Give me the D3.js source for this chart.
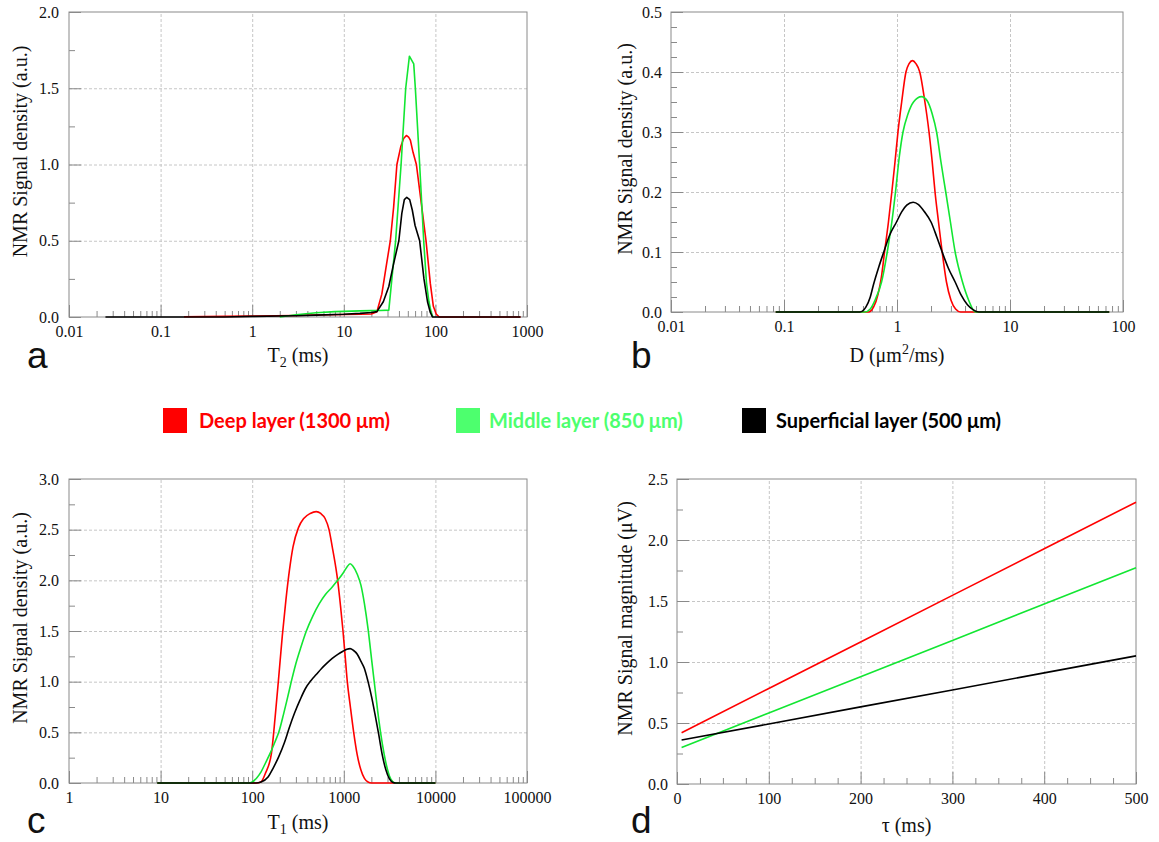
<!DOCTYPE html>
<html><head><meta charset="utf-8">
<script src="https://cdn.jsdelivr.net/npm/d3@7"></script>
<style>
body{margin:0;background:#fff}
svg{display:block}
</style>
</head><body>
<svg id="chart" width="1159" height="842"></svg>
<script>
// ---------- DATA ----------
// Panel a: T2 distributions [T2 (ms), density]
const t2Deep = [[0.18,0.002],[0.5,0.004],[1,0.006],[3,0.01],[5,0.013],[10,0.016],[15,0.018],[20,0.02],[23,0.035],[26,0.15],[29,0.33],[32.2,0.5],[35,0.72],[38,1.0],[42,1.12],[45,1.17],[48.2,1.19],[51,1.18],[53.3,1.16],[57,1.08],[62,1.0],[70,0.75],[79,0.5],[88,0.22],[95,0.07],[102,0.02],[110,0],[850,0]];
const t2Middle = [[2,0],[3,0.015],[5,0.028],[8,0.035],[10,0.037],[15,0.04],[20,0.042],[25,0.043],[31,0.045],[36.8,0.5],[42.2,1.0],[47.4,1.5],[52,1.71],[58,1.66],[60.4,1.5],[67.3,1.0],[74.5,0.5],[80,0.22],[85,0.1],[90,0.03],[94,0]];
const t2Superficial = [[0.025,0],[0.5,0],[1,0.004],[3,0.008],[5,0.012],[10,0.018],[15,0.024],[20,0.03],[23,0.035],[27,0.1],[31,0.2],[35,0.35],[39.9,0.5],[43,0.68],[45.8,0.77],[48.7,0.785],[52.4,0.77],[56,0.7],[60,0.6],[67.3,0.5],[75,0.25],[82,0.1],[88,0.03],[93,0],[850,0]];

// Panel b: D distributions [D (um2/ms), density]
const dDeep = [[0.0845,0],[0.56,0],[0.62,0.008],[0.68,0.03],[0.73,0.06],[0.776,0.1],[0.84,0.15],[0.9,0.2],[0.96,0.25],[1.02,0.3],[1.1,0.35],[1.2,0.4],[1.28,0.414],[1.37,0.419],[1.47,0.414],[1.59,0.4],[1.75,0.355],[1.92,0.3],[2.05,0.25],[2.17,0.2],[2.33,0.15],[2.51,0.1],[2.74,0.05],[3.0,0.02],[3.3,0.005],[3.66,0],[75.5,0]];
const dMiddle = [[0.0845,0],[0.52,0],[0.58,0.005],[0.64,0.02],[0.73,0.05],[0.82,0.1],[0.9,0.15],[0.97,0.2],[1.05,0.26],[1.13,0.3],[1.25,0.33],[1.4,0.35],[1.65,0.359],[1.85,0.352],[2.05,0.33],[2.24,0.3],[2.45,0.25],[2.7,0.2],[2.97,0.15],[3.27,0.1],[3.8,0.05],[4.3,0.02],[4.95,0],[75.5,0]];
const dSuperficial = [[0.0845,0],[0.47,0],[0.53,0.008],[0.58,0.025],[0.618,0.045],[0.69,0.075],[0.764,0.1],[0.86,0.128],[0.99,0.15],[1.1,0.167],[1.22,0.178],[1.39,0.183],[1.55,0.179],[1.75,0.167],[2.0,0.15],[2.25,0.125],[2.51,0.1],[2.85,0.073],[3.27,0.05],[3.7,0.028],[4.2,0.012],[4.7,0.004],[5.3,0],[75.5,0]];

// Panel c: T1 distributions [T1 (ms), density]
const t1Deep = [[9.2,0],[110,0],[124,0.01],[140,0.1],[162,0.29],[178,0.65],[195,1.05],[213,1.45],[233,1.8],[255,2.1],[279,2.33],[320,2.52],[365,2.61],[430,2.66],[500,2.678],[560,2.66],[625,2.61],[690,2.5],[748,2.33],[820,2.12],[857,2.0],[920,1.75],[980,1.5],[1035,1.25],[1092,1.0],[1180,0.75],[1282,0.5],[1400,0.28],[1535,0.13],[1680,0.045],[1837,0.01],[2011,0],[10000,0]];
const t1Middle = [[9.2,0],[92,0],[100,0.01],[112,0.05],[125,0.11],[140,0.2],[160,0.31],[178,0.41],[195,0.5],[220,0.68],[240,0.82],[267,1.0],[300,1.18],[340,1.34],[390,1.5],[460,1.65],[540,1.77],[630,1.86],[740,1.93],[857,2.0],[980,2.07],[1080,2.13],[1172,2.163],[1260,2.14],[1403,2.06],[1540,1.95],[1679,1.77],[1840,1.52],[2011,1.22],[2200,0.92],[2405,0.63],[2640,0.38],[2878,0.2],[3150,0.07],[3444,0.01],[3700,0],[10000,0]];
const t1Superficial = [[9.2,0],[110,0],[125,0.01],[149,0.06],[170,0.15],[195,0.26],[225,0.4],[255,0.55],[290,0.69],[333,0.82],[380,0.93],[437,1.01],[500,1.07],[572,1.13],[650,1.18],[748,1.23],[860,1.27],[980,1.3],[1080,1.32],[1172,1.326],[1270,1.31],[1403,1.27],[1540,1.2],[1679,1.13],[1840,1.0],[2011,0.85],[2200,0.67],[2405,0.48],[2640,0.27],[2878,0.13],[3150,0.04],[3444,0.005],[3700,0],[10000,0]];

// Panel d: signal magnitude vs tau
const tau = [5,100,200,300,400,500];
const magDeep = [0.42,0.783,1.164,1.546,1.928,2.31];
const magMiddle = [0.30,0.582,0.88,1.177,1.475,1.772];
const magSuperficial = [0.36,0.492,0.632,0.771,0.911,1.05];

// Tick labels
const t2Labels = ["0.01","0.1","1","10","100","1000"];
const dLabels = ["0.01","0.1","1","10","100"];
const t1Labels = ["1","10","100","1000","10000","100000"];
const tauLabels = ["0","100","200","300","400","500"];

const seriesNames = ["Deep layer (1300 μm)","Middle layer (850 μm)","Superficial layer (500 μm)"];
const lineColors = ["#ff0000","#12e632","#000000"];
const legendColors = ["#ff0000","#4dff6e","#000000"];

// ---------- DRAW ----------
const svg = d3.select("#chart");
const SERIF = "'Liberation Serif','Times New Roman',serif";

function logMinors(lo, hi){
  const out=[];
  for(let e=Math.round(Math.log10(lo)); e<Math.round(Math.log10(hi)); e++){
    for(let k=2;k<=9;k++) out.push(k*Math.pow(10,e));
  }
  return out;
}
function linSteps(lo,hi,step){
  const out=[]; const n=Math.round((hi-lo)/step);
  for(let i=0;i<=n;i++) out.push(+(lo+i*step).toFixed(6));
  return out;
}

function styleAxis(sel){
  sel.select(".domain").remove();
  sel.selectAll(".tick line").attr("stroke","#8a8a8a").attr("stroke-width",1);
  sel.selectAll(".tick text").attr("fill","#111").style("font-family",SERIF).style("font-size","16px");
}

function panel(o){
  const w=o.right-o.left, h=o.bottom-o.top;
  const g=svg.append("g").attr("transform",`translate(${o.left},${o.top})`);
  const x=(o.log?d3.scaleLog():d3.scaleLinear()).domain(o.xDomain).range([0,w]);
  const y=d3.scaleLinear().domain(o.yDomain).range([h,0]);

  // grid
  const gx=g.append("g").attr("transform",`translate(0,${h})`)
    .call(d3.axisBottom(x).tickValues(o.xMajor.slice(1,-1)).tickSize(-h).tickFormat(""));
  const gy=g.append("g")
    .call(d3.axisLeft(y).tickValues(o.yMajor.slice(1,-1)).tickSize(-w).tickFormat(""));
  [gx,gy].forEach(s=>{s.select(".domain").remove();
    s.selectAll(".tick line").attr("stroke","#c6c6c6").attr("stroke-dasharray","3,2");});

  // minor ticks
  styleAxis(g.append("g").attr("transform",`translate(0,${h})`)
    .call(d3.axisBottom(x).tickValues(o.xMinor).tickSize(-6).tickFormat("")));
  styleAxis(g.append("g")
    .call(d3.axisLeft(y).tickValues(o.yMinor).tickSize(-6).tickFormat("")));
  // major ticks + labels
  styleAxis(g.append("g").attr("transform",`translate(0,${h})`)
    .call(d3.axisBottom(x).tickValues(o.xMajor).tickSize(-12).tickPadding(9)
      .tickFormat((d,i)=>o.xLabels[i])));
  styleAxis(g.append("g")
    .call(d3.axisLeft(y).tickValues(o.yMajor).tickSize(-12).tickPadding(o.yPad)
      .tickFormat(d3.format(".1f"))));

  // frame
  g.append("rect").attr("x",0).attr("y",0).attr("width",w).attr("height",h)
    .attr("fill","none").attr("stroke","#8a8a8a").attr("stroke-width",1);

  // lines
  const line=d3.line().x(d=>x(d[0])).y(d=>y(d[1])).curve(o.curve);
  o.series.forEach((s,i)=>{
    g.append("path").datum(s).attr("d",line).attr("fill","none")
      .attr("stroke",lineColors[i]).attr("stroke-width",1.6).attr("stroke-linejoin","round");
  });

  // y title
  svg.append("text").attr("transform",`translate(${o.yTitleX},${(o.top+o.bottom)/2-13}) rotate(-90)`)
    .attr("text-anchor","middle").style("font-family",SERIF).style("font-size","20px").attr("fill","#111")
    .text(o.yTitle);
  // x title
  const xt=svg.append("text").attr("x",(o.left+o.right)/2).attr("y",o.xTitleY)
    .attr("text-anchor","middle").style("font-family",SERIF).style("font-size","20px").attr("fill","#111");
  o.xTitle(xt);
  // letter
  svg.append("text").attr("x",o.letterX).attr("y",o.letterY)
    .style("font-family","'Liberation Sans',Arial,sans-serif").style("font-size","37px").attr("fill","#111")
    .text(o.letter);
}

panel({left:69,right:527,top:12,bottom:317,log:true,xDomain:[0.01,1000],yDomain:[0,2],
  xMajor:[0.01,0.1,1,10,100,1000],xMinor:logMinors(0.01,1000),xLabels:t2Labels,
  yMajor:linSteps(0,2,0.5),yMinor:[0.25,0.75,1.25,1.75],yPad:10,
  series:[t2Deep,t2Middle,t2Superficial],curve:d3.curveLinear,
  yTitle:"NMR Signal density (a.u.)",yTitleX:27,xTitleY:362,
  xTitle:t=>{t.append("tspan").text("T");t.append("tspan").attr("dy",5).style("font-size","14px").text("2");t.append("tspan").attr("dy",-5).text(" (ms)");},
  letter:"a",letterX:27,letterY:368});

panel({left:671,right:1123,top:12,bottom:312,log:true,xDomain:[0.01,100],yDomain:[0,0.5],
  xMajor:[0.01,0.1,1,10,100],xMinor:logMinors(0.01,100),xLabels:dLabels,
  yMajor:linSteps(0,0.5,0.1),yMinor:linSteps(0,0.5,0.025).filter(v=>Math.abs(v*10-Math.round(v*10))>1e-6),yPad:9,
  series:[dDeep,dMiddle,dSuperficial],curve:d3.curveMonotoneX,
  yTitle:"NMR Signal density (a.u.)",yTitleX:632,xTitleY:362,
  xTitle:t=>{t.append("tspan").text("D (μm");t.append("tspan").attr("dy",-8).style("font-size","14px").text("2");t.append("tspan").attr("dy",8).text("/ms)");},
  letter:"b",letterX:631,letterY:368});

panel({left:69,right:527,top:479,bottom:783,log:true,xDomain:[1,100000],yDomain:[0,3],
  xMajor:[1,10,100,1000,10000,100000],xMinor:logMinors(1,100000),xLabels:t1Labels,
  yMajor:linSteps(0,3,0.5),yMinor:[0.25,0.75,1.25,1.75,2.25,2.75],yPad:10,
  series:[t1Deep,t1Middle,t1Superficial],curve:d3.curveMonotoneX,
  yTitle:"NMR Signal density (a.u.)",yTitleX:27,xTitleY:829,
  xTitle:t=>{t.append("tspan").text("T");t.append("tspan").attr("dy",5).style("font-size","14px").text("1");t.append("tspan").attr("dy",-5).text(" (ms)");},
  letter:"c",letterX:27,letterY:833});

panel({left:677,right:1136,top:479,bottom:784,log:false,xDomain:[0,500],yDomain:[0,2.5],
  xMajor:[0,100,200,300,400,500],xMinor:linSteps(25,475,25).filter(v=>v%100!==0),xLabels:tauLabels,
  yMajor:linSteps(0,2.5,0.5),yMinor:[0.25,0.75,1.25,1.75,2.25],yPad:9,
  series:[magDeep,magMiddle,magSuperficial].map(arr=>tau.map((t,i)=>[t,arr[i]])),curve:d3.curveLinear,
  yTitle:"NMR Signal magnitude (μV)",yTitleX:632,xTitleY:832,
  xTitle:t=>{t.text("τ (ms)");},
  letter:"d",letterX:631,letterY:833});

// legend
const legX=[163,456,742], legTX=[199,489,776];
seriesNames.forEach((n,i)=>{
  svg.append("rect").attr("x",legX[i]).attr("y",408).attr("width",24).attr("height",25).attr("fill",legendColors[i]);
  svg.append("text").attr("x",legTX[i]).attr("y",428).attr("fill",legendColors[i])
    .style("font-family","Lato,'Open Sans',sans-serif").style("font-weight","700").style("font-size","20px")
    .text(n);
});
</script>
</body></html>
